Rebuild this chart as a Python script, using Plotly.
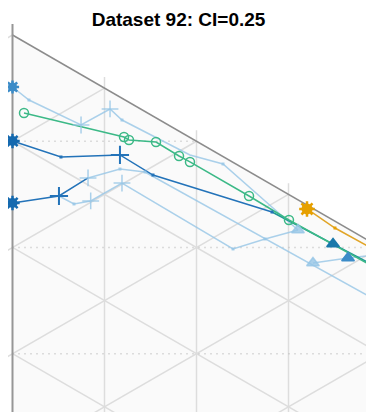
import numpy as np
import plotly.graph_objects as go

# ---- data (lattice units: u = distance from left edge, v = distance down from apex) ----
green_u = [0.125, 1.212, 1.266, 1.560, 1.810, 1.929, 2.571, 3.005, 4.54]
green_v = [0.848, 1.109, 1.141, 1.163, 1.315, 1.380, 1.750, 2.011, 2.86]

dblue1_u = [0.0, 0.527, 1.168, 1.527, 2.821]
dblue1_v = [1.152, 1.326, 1.304, 1.522, 1.924]

teal_u = [2.821, 3.484, 4.43]
teal_v = [1.924, 2.272, 2.77]

dblue2_u = [0.0, 0.505, 0.821]
dblue2_v = [1.826, 1.750, 1.554]

orange_u = [3.201, 3.505, 4.43]
orange_v = [1.891, 2.098, 2.61]

light1_u = [0.0, 0.179, 0.745, 1.060, 1.190, 1.929, 2.288, 3.103]
light1_v = [0.565, 0.707, 0.978, 0.804, 0.924, 1.304, 1.402, 2.120]

light2_u = [0.821, 1.168, 1.440, 3.911]
light2_v = [1.554, 1.457, 1.489, 2.859]

light3_u = [0.505, 0.668, 0.850, 1.190, 2.397, 2.745, 3.103]
light3_v = [1.750, 1.837, 1.804, 1.609, 2.326, 2.217, 2.120]

light4_u = [3.266, 3.647, 4.3]
light4_v = [2.478, 2.424, 2.35]

title = "Dataset 92: CI=0.25"

# ---- geometry helpers ----
t = np.tan(np.pi / 6)
H = 6
tick = 0.12

fig = go.Figure()

# triangle background
fig.add_trace(go.Scatter(x=[0, H, 0, 0], y=[0, H * t, 2 * H * t, 0], mode="lines",
                         fill="toself", fillcolor="rgb(250,250,250)",
                         line=dict(width=0), hoverinfo="skip", showlegend=False))

gx, gy = [], []
for k in range(1, H):
    gx += [k, k, None]
    gy += [k * t - tick, 2 * H * t, None]
    gx += [-tick * np.cos(np.pi / 6), k, None]
    gy += [2 * k * t + tick * 0.5, k * t, None]
    gx += [0, H, None]
    gy += [2 * k * t, 2 * k * t + H * t, None]
fig.add_trace(go.Scatter(x=gx, y=gy, mode="lines", line=dict(color="rgb(221,221,221)", width=1.5),
                         hoverinfo="skip", showlegend=False))

# dotted guides
dx, dy = [], []
for k in range(1, 4):
    dx += [0, 2 * k, None]
    dy += [2 * k * t, 2 * k * t, None]
fig.add_trace(go.Scatter(x=dx, y=dy, mode="lines",
                         line=dict(color="rgb(190,190,190)", width=1.5, dash="1px,5px"),
                         hoverinfo="skip", showlegend=False))

# edges
fig.add_trace(go.Scatter(x=[-tick * np.cos(np.pi / 6), 0], y=[tick * 0.5, 0], mode="lines",
                         line=dict(color="rgb(221,221,221)", width=1.5), hoverinfo="skip", showlegend=False))
fig.add_trace(go.Scatter(x=[0, H], y=[0, H * t], mode="lines", line=dict(color="rgb(140,140,140)", width=1.5),
                         hoverinfo="skip", showlegend=False))
fig.add_trace(go.Scatter(x=[0, 0], y=[-tick, 2 * H * t], mode="lines", line=dict(color="rgb(150,150,150)", width=2),
                         hoverinfo="skip", showlegend=False))

LB = "rgba(150,198,230,0.8)"
DB = "rgb(35,115,185)"


def line(u, v, color, width=1.5):
    fig.add_trace(go.Scatter(x=u, y=v, mode="lines", line=dict(color=color, width=width),
                             hoverinfo="skip", showlegend=False))


def pts(u, v, color, symbol, size, lw=1.5):
    fig.add_trace(go.Scatter(x=u, y=v, mode="markers",
                             marker=dict(symbol=symbol, size=size, color=color, line=dict(color=color, width=lw)),
                             hoverinfo="skip", showlegend=False))


def cog(u, v, color, size):
    pts(u, v, color, "asterisk-open", size, 2.5)
    pts(u, v, color, "circle", size - 2, 0)


line(light1_u, light1_v, LB)
line(light2_u, light2_v, LB)
line(light3_u, light3_v, LB)
line(light4_u, light4_v, LB)
line(dblue2_u, dblue2_v, DB)
line(dblue1_u, dblue1_v, DB)
line(teal_u, teal_v, "rgb(30,150,150)")
line(green_u, green_v, "rgb(60,185,135)")
line(orange_u, orange_v, "rgb(225,165,40)")

# markers
pts([light1_u[2], light1_u[3], light2_u[0], light3_u[3], light3_u[2]],
    [light1_v[2], light1_v[3], light2_v[0], light3_v[3], light3_v[2]], LB, "cross-thin-open", 12)
pts([light1_u[1], light1_u[4], light1_u[6], light2_u[1], light2_u[2], light3_u[1], light3_u[4], light3_u[5]],
    [light1_v[1], light1_v[4], light1_v[6], light2_v[1], light2_v[2], light3_v[1], light3_v[4], light3_v[5]],
    LB, "square", 3, 0)
pts([light1_u[7], light4_u[0]], [light1_v[7], light4_v[0]], LB, "triangle-up", 11)
pts([light4_u[1]], [light4_v[1]], "rgb(60,140,200)", "triangle-up", 11)
pts([dblue1_u[2], dblue2_u[1]], [dblue1_v[2], dblue2_v[1]], DB, "cross-thin-open", 13, 2)
pts([dblue1_u[1], dblue1_u[3], dblue1_u[4]], [dblue1_v[1], dblue1_v[3], dblue1_v[4]], DB, "square", 3, 0)
cog([dblue1_u[0], dblue2_u[0]], [dblue1_v[0], dblue2_v[0]], "rgb(20,105,175)", 12)
cog([light1_u[0]], [light1_v[0]], "rgb(60,140,200)", 11)
pts([teal_u[1]], [teal_v[1]], "rgb(25,120,170)", "triangle-up", 11)
pts(green_u[:8], green_v[:8], "rgb(60,185,135)", "circle-open", 9)
cog([orange_u[0]], [orange_v[0]], "rgb(230,160,0)", 13)
pts([orange_u[1]], [orange_v[1]], "rgb(230,160,0)", "square", 3, 0)

# the page adds an 8px body margin, so the apex at screen (12.5, 35) is figure (4.5, 27)
fig.update_layout(
    width=374, height=412, margin=dict(l=0, r=0, t=0, b=0),
    paper_bgcolor="white", plot_bgcolor="white",
    title=dict(text="<b>" + title + "</b>", x=0.456, xanchor="center", y=0.972, yanchor="middle",
               font=dict(family="Liberation Sans, Arial", size=19, color="black")),
    xaxis=dict(range=[-4.5 / 92, 369.5 / 92], visible=False, fixedrange=True),
    yaxis=dict(range=[385 / 92, -27 / 92], visible=False, fixedrange=True),
)

fig.write_html("out.html")
